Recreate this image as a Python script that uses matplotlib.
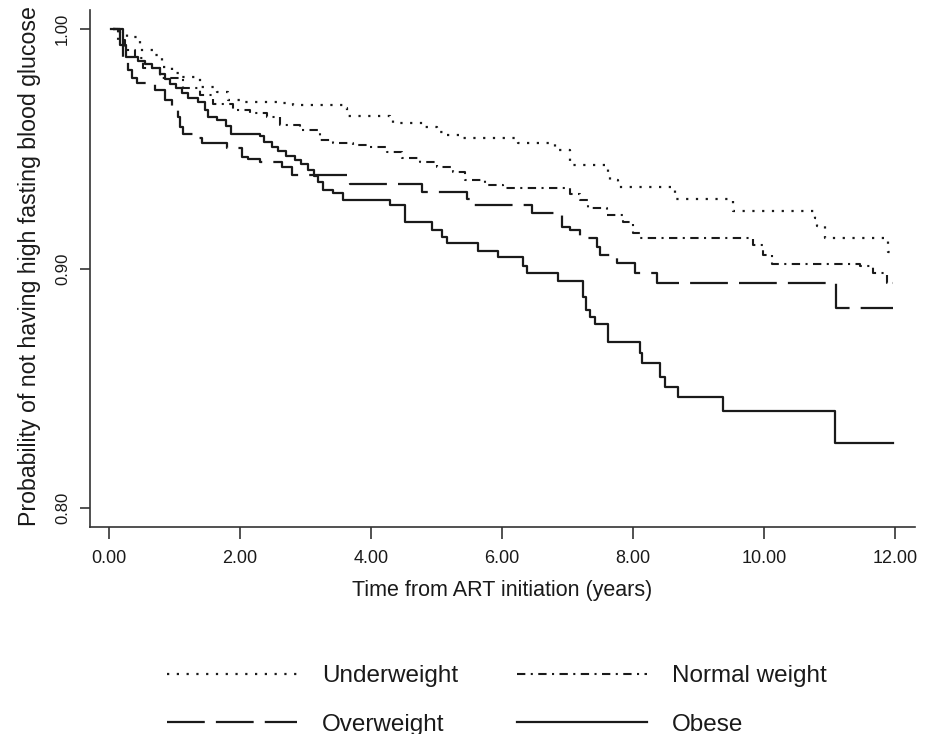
import matplotlib
matplotlib.use("Agg")
import matplotlib.pyplot as plt

plt.rcParams['font.family'] = ['Liberation Sans', 'DejaVu Sans']

# Kaplan-Meier estimates by BMI group (time in years, survival after each step)
underweight_t = [0.06, 0.17, 0.27, 0.47, 0.67, 0.81, 0.96, 1.11, 1.39, 1.65, 1.82, 2.05,
                 2.56, 2.81, 3.60, 3.63, 4.29, 4.34, 4.82, 5.01, 5.16, 5.36, 6.24, 6.81,
                 7.04, 7.62, 7.65, 7.77, 8.64, 9.53, 10.78, 10.81, 10.93, 11.89, 11.97]
underweight_s = [1.0, 0.9983, 0.9967, 0.9912, 0.9891, 0.9841, 0.9816, 0.9800, 0.9758, 0.9737,
                 0.9704, 0.9695, 0.9691, 0.9683, 0.9670, 0.9637, 0.9620, 0.9608, 0.9591,
                 0.9570, 0.9557, 0.9545, 0.9524, 0.9495, 0.9432, 0.9403, 0.9370, 0.9340,
                 0.9290, 0.9240, 0.9211, 0.9177, 0.9127, 0.9069, 0.9069]

normal_t = [0.06, 0.14, 0.24, 0.40, 0.52, 0.78, 1.13, 1.39, 1.59, 1.89, 2.15, 2.41, 2.61,
            2.92, 3.22, 3.42, 3.73, 3.94, 4.24, 4.47, 4.75, 5.01, 5.25, 5.44, 5.74, 6.02,
            7.04, 7.19, 7.31, 7.60, 7.85, 8.00, 8.11, 9.83, 9.98, 10.12, 11.47, 11.66,
            11.88, 11.97]
normal_s = [1.0, 0.9954, 0.9912, 0.9879, 0.9837, 0.9795, 0.9754, 0.9724, 0.9687, 0.9662,
            0.9649, 0.9633, 0.9599, 0.9578, 0.9537, 0.9524, 0.9516, 0.9507, 0.9486, 0.9461,
            0.9445, 0.9424, 0.9403, 0.9370, 0.9349, 0.9336, 0.9311, 0.9286, 0.9253, 0.9223,
            0.9194, 0.9148, 0.9127, 0.9098, 0.9056, 0.9019, 0.9010, 0.8981, 0.8939, 0.8939]

overweight_t = [0.06, 0.17, 0.21, 0.29, 0.35, 0.43, 0.70, 0.85, 0.96, 1.05, 1.08, 1.13,
                1.31, 1.42, 1.80, 2.03, 2.12, 2.30, 2.64, 2.79, 3.68, 4.78, 5.47, 5.54,
                6.46, 6.92, 7.04, 7.19, 7.45, 7.50, 7.76, 8.03, 8.37, 11.10, 11.97]
overweight_s = [1.0, 0.9933, 0.9883, 0.9829, 0.9795, 0.9775, 0.9745, 0.9704, 0.9670, 0.9633,
                0.9591, 0.9562, 0.9545, 0.9524, 0.9503, 0.9466, 0.9457, 0.9445, 0.9424,
                0.9390, 0.9353, 0.9319, 0.9290, 0.9265, 0.9232, 0.9173, 0.9161, 0.9127,
                0.9090, 0.9056, 0.9023, 0.8981, 0.8939, 0.8835, 0.8835]

obese_t = [0.03, 0.21, 0.26, 0.44, 0.55, 0.66, 0.78, 0.85, 0.93, 1.02, 1.11, 1.21, 1.36,
           1.47, 1.51, 1.65, 1.79, 1.86, 2.31, 2.37, 2.49, 2.58, 2.70, 2.84, 2.93, 3.04,
           3.13, 3.19, 3.27, 3.42, 3.57, 4.29, 4.52, 4.93, 5.08, 5.16, 5.63, 5.94, 6.32,
           6.38, 6.85, 7.24, 7.28, 7.34, 7.42, 7.62, 8.11, 8.14, 8.41, 8.49, 8.69, 9.37,
           11.08, 11.97]
obese_s = [1.000, 0.9933, 0.9883, 0.9866, 0.9854, 0.9837, 0.9812, 0.9791, 0.9770, 0.9754,
           0.9733, 0.9712, 0.9695, 0.9662, 0.9633, 0.9620, 0.9595, 0.9562, 0.9553, 0.9528,
           0.9507, 0.9491, 0.9470, 0.9453, 0.9436, 0.9411, 0.9386, 0.9361, 0.9328, 0.9315,
           0.9286, 0.9265, 0.9194, 0.9161, 0.9132, 0.9106, 0.9073, 0.9048, 0.9010, 0.8981,
           0.8948, 0.8881, 0.8827, 0.8797, 0.8768, 0.8693, 0.8647, 0.8605, 0.8547, 0.8505,
           0.8463, 0.8405, 0.8271, 0.8271]

x_ticks = [0, 2, 4, 6, 8, 10, 12]
x_ticklabels = ['0.00', '2.00', '4.00', '6.00', '8.00', '10.00', '12.00']
y_ticks = [0.80, 0.90, 1.00]
y_ticklabels = ['0.80', '0.90', '1.00']

ink = '#1a1a1a'

fig = plt.figure(figsize=(9.32, 7.34), dpi=100)
ax = fig.add_axes([0.0966, 0.282, 0.885, 0.704])

l_under, = ax.step(underweight_t, underweight_s, where='post', color=ink, lw=1.6,
                   ls=(0, (1.0, 3.4)), label='Underweight')
l_normal, = ax.step(normal_t, normal_s, where='post', color=ink, lw=1.5,
                    ls=(0, (4.0, 2.6, 1.0, 2.6)), label='Normal weight')
l_over, = ax.step(overweight_t, overweight_s, where='post', color=ink, lw=1.6,
                  ls=(0, (17, 5)), label='Overweight')
l_obese, = ax.step(obese_t, obese_s, where='post', color=ink, lw=1.6, label='Obese')

ax.set_xlim(-0.29, 12.3)
ax.set_ylim(0.792, 1.0079)

for side in ('top', 'right'):
    ax.spines[side].set_visible(False)
for side in ('left', 'bottom'):
    ax.spines[side].set_linewidth(1.2)
    ax.spines[side].set_color('#333333')

ax.set_xticks(x_ticks)
ax.set_xticklabels(x_ticklabels, fontsize=13, color=ink)
ax.set_yticks(y_ticks)
ax.set_yticklabels(y_ticklabels, rotation=90, va='center', fontsize=12, color=ink)
ax.tick_params(axis='x', length=8.5, width=1.2, pad=8, color='#333333')
ax.tick_params(axis='y', length=7.5, width=1.2, pad=7, color='#333333')

ax.set_xlabel('Time from ART initiation (years)', fontsize=15.5, color=ink)
ax.xaxis.set_label_coords(0.5, -0.122)
ax.xaxis.label.set_va('center')

fig.text(30 / 932, 1 - 266 / 734, 'Probability of not having high fasting blood glucose',
         rotation=90, ha='center', va='center', fontsize=16.7, color=ink)

# two-column key below the axes
fig.legend([l_under, l_over, l_normal, l_obese],
           ['Underweight', 'Overweight', 'Normal weight', 'Obese'],
           ncol=2, loc='upper left', bbox_to_anchor=(167 / 932, 0.094),
           frameon=False, fontsize=17.5, handlelength=5.35, handletextpad=1.03,
           columnspacing=2.4, labelspacing=1.1, borderpad=0, borderaxespad=0,
           labelcolor=ink)

fig.savefig('out.png', dpi=100)
